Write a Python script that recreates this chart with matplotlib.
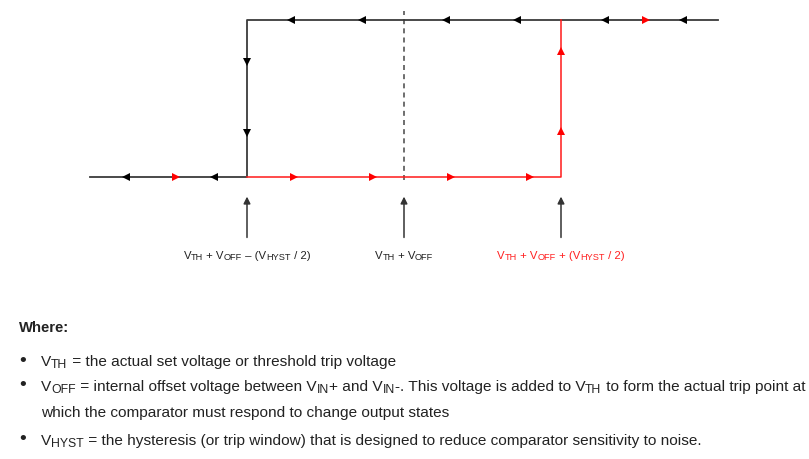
import matplotlib.pyplot as plt
from matplotlib.font_manager import FontProperties
from matplotlib.transforms import IdentityTransform

plt.rcParams['font.family'] = ['Liberation Sans', 'DejaVu Sans']

# diagram data: input in units of VHYST/2 around VTH+VOFF, output low/high
thresholds = [-1.0, 0.0, 1.0]
in_min, in_max = -2.0, 2.0
out_low, out_high = 0.0, 1.0

# falling path (black) and rising path (red)
fall_x = [in_max, thresholds[0], thresholds[0], in_min]
fall_y = [out_high, out_high, out_low, out_low]
rise_x = [thresholds[0], thresholds[2], thresholds[2]]
rise_y = [out_low, out_low, out_high]

# arrowhead positions along the paths
black_left_top = [-0.72, -0.27, 0.27, 0.72, 1.28, 1.78]
black_left_bottom = [-1.77, -1.21]
black_down = [0.73, 0.28]
red_right_bottom = [-1.45, -0.70, -0.20, 0.30, 0.80]
red_right_top = [1.54]
red_up = [0.80, 0.29]

# text pieces: (string, is_subscript)
labels = [
    [('V', 0), ('TH', 1), (' + V', 0), ('OFF', 1), (' – (V', 0), ('HYST', 1), (' / 2)', 0)],
    [('V', 0), ('TH', 1), (' + V', 0), ('OFF', 1)],
    [('V', 0), ('TH', 1), (' + V', 0), ('OFF', 1), (' + (V', 0), ('HYST', 1), (' / 2)', 0)],
]
label_colors = ['#222222', '#222222', '#ff2020']

body_lines = [
    [('V', 0), ('TH', 1), (' = the actual set voltage or threshold trip voltage', 0)],
    [('V', 0), ('OFF', 1), (' = internal offset voltage between V', 0), ('IN', 1), ('+ and V', 0),
     ('IN', 1), ('-. This voltage is added to V', 0), ('TH', 1),
     (' to form the actual trip point at', 0)],
    [('which the comparator must respond to change output states', 0)],
    [('V', 0), ('HYST', 1), (' = the hysteresis (or trip window) that is designed to reduce '
                              'comparator sensitivity to noise.', 0)],
]
body_bullet = [True, True, False, True]

W, H = 809, 459
fig = plt.figure(figsize=(W / 100, H / 100), dpi=100, facecolor='white')
ax = fig.add_axes([0, 0, 1, 1])
scale = 157.0
x0, y0 = 404.0, 459 - 177.0
ax.set_xlim(-x0 / scale, (W - x0) / scale)
ax.set_ylim(-y0 / scale, (H - y0) / scale)
ax.axis('off')
renderer = fig.canvas.get_renderer()


def text_width(s, fp):
    # pad with bars so leading/trailing spaces are counted
    w1 = renderer.get_text_width_height_descent('|' + s + '|', fp, False)[0]
    w0 = renderer.get_text_width_height_descent('||', fp, False)[0]
    return w1 - w0


def rich_text(x, y, pieces, size, color, ha='left', sub=0.8):
    # x, y in pixels from top-left; y is the baseline
    fps = [FontProperties(size=size * (sub if s else 1.0)) for _, s in pieces]
    widths = [text_width(t, fp) for (t, _), fp in zip(pieces, fps)]
    total = sum(widths)
    cx = x - total / 2 if ha == 'center' else x
    for (t, s), fp, w in zip(pieces, fps, widths):
        dy = size * 0.14 if s else 0.0
        fig.text(cx, H - y - dy, t, fontproperties=fp, color=color,
                 ha='left', va='baseline', transform=IdentityTransform())
        cx += w


# dashed centre line
ax.plot([thresholds[1], thresholds[1]], [-0.02, 1.06], color='#555555', lw=1.2,
        dashes=(3, 2.5), zorder=1)

ax.plot(fall_x, fall_y, color='#3a3a3a', lw=1.3, zorder=2)
ax.plot(rise_x, rise_y, color='#ff1a1a', lw=1.1, zorder=3)

ms = 6
ax.plot(black_left_top, [out_high] * len(black_left_top), '<', color='black', ms=ms, mew=0, zorder=4)
ax.plot(black_left_bottom, [out_low] * len(black_left_bottom), '<', color='black', ms=ms, mew=0, zorder=4)
ax.plot([thresholds[0]] * len(black_down), black_down, 'v', color='black', ms=ms, mew=0, zorder=4)
ax.plot(red_right_bottom, [out_low] * len(red_right_bottom), '>', color='#ff0000', ms=ms, mew=0, zorder=4)
ax.plot(red_right_top, [out_high] * len(red_right_top), '>', color='#ff0000', ms=ms, mew=0, zorder=4)
ax.plot([thresholds[2]] * len(red_up), red_up, '^', color='#ff0000', ms=ms, mew=0, zorder=4)

# threshold pointers and labels
for t, lab, c in zip(thresholds, labels, label_colors):
    ax.annotate('', xy=(t, -0.125), xytext=(t, -0.385),
                arrowprops=dict(arrowstyle='-|>', color='#333333', lw=1.1,
                                mutation_scale=10, shrinkA=0, shrinkB=0))
    px = x0 + t * scale
    rich_text(px, 259, lab, 8.2, c, ha='center')

# explanation text
fig.text(19, H - 332, 'Where:', fontsize=10.7, fontweight='bold', color='#222222',
         ha='left', va='baseline', transform=IdentityTransform())
baselines = [366, 391, 417, 445]
for yy, line, has_bullet in zip(baselines, body_lines, body_bullet):
    if has_bullet:
        fig.text(23, H - yy + 5, '•', fontsize=14, color='#222222', ha='center',
                 va='center', transform=IdentityTransform())
    rich_text(41, yy, line, 11.05, '#222222')

fig.savefig('out.png', dpi=100, facecolor='white')
